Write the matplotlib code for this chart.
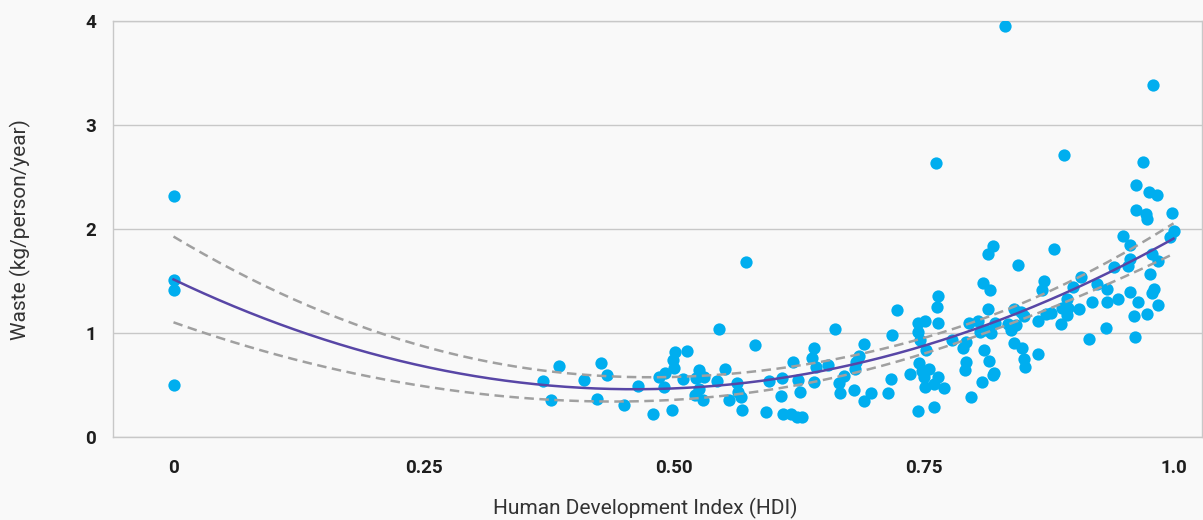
import numpy as np
import matplotlib
matplotlib.use("Agg")
from matplotlib import pyplot as plt

# HDI (x) and waste per person (y)
hdi = [0, 0, 0, 0,
       0.369, 0.377, 0.385, 0.410, 0.423, 0.427, 0.433, 0.450, 0.464, 0.479,
       0.485, 0.490, 0.491, 0.498, 0.500, 0.499, 0.501, 0.513, 0.509, 0.522,
       0.525, 0.530, 0.525, 0.521, 0.529, 0.545, 0.543, 0.551, 0.555, 0.563,
       0.564, 0.567, 0.568, 0.572, 0.581, 0.592, 0.595, 0.607, 0.608, 0.609,
       0.617, 0.623, 0.628, 0.619, 0.624, 0.626, 0.640, 0.638, 0.642, 0.640,
       0.654, 0.661, 0.665, 0.666, 0.670, 0.680, 0.690, 0.685, 0.682, 0.681,
       0.690, 0.697, 0.714, 0.717, 0.718, 0.723, 0.736, 0.744, 0.745, 0.744,
       0.744, 0.751, 0.746, 0.752, 0.748, 0.755, 0.750, 0.751, 0.760, 0.764,
       0.770, 0.760, 0.762, 0.764, 0.763, 0.764, 0.778, 0.789, 0.792, 0.792,
       0.791, 0.797, 0.795, 0.804, 0.806, 0.808, 0.810, 0.809, 0.816, 0.814,
       0.819, 0.814, 0.815, 0.820, 0.819, 0.821, 0.817, 0.812, 0.834, 0.842,
       0.837, 0.840, 0.847, 0.850, 0.840, 0.848, 0.850, 0.851, 0.844, 0.864,
       0.864, 0.870, 0.868, 0.872, 0.877, 0.880, 0.887, 0.888, 0.894, 0.893,
       0.893, 0.890, 0.899, 0.905, 0.907, 0.915, 0.918, 0.923, 0.933, 0.933,
       0.932, 0.944, 0.940, 0.949, 0.956, 0.956, 0.954, 0.956, 0.960, 0.961,
       0.964, 0.962, 0.962, 0.969, 0.975, 0.983, 0.972, 0.973, 0.978, 0.984,
       0.976, 0.980, 0.978, 0.984, 0.973, 0.998, 1.000, 0.996, 0.979, 0.831]
waste = [2.32, 1.51, 1.41, 0.50,
         0.54, 0.36, 0.68, 0.55, 0.37, 0.71, 0.60, 0.31, 0.49, 0.22,
         0.58, 0.48, 0.62, 0.26, 0.66, 0.74, 0.82, 0.83, 0.56, 0.57,
         0.64, 0.58, 0.46, 0.40, 0.36, 1.04, 0.54, 0.65, 0.36, 0.52,
         0.43, 0.38, 0.26, 1.68, 0.88, 0.24, 0.54, 0.39, 0.57, 0.22,
         0.22, 0.19, 0.19, 0.72, 0.55, 0.43, 0.86, 0.76, 0.67, 0.53,
         0.69, 1.04, 0.52, 0.42, 0.59, 0.45, 0.89, 0.78, 0.72, 0.65,
         0.35, 0.42, 0.42, 0.56, 0.98, 1.22, 0.61, 0.25, 0.71, 1.01,
         1.10, 1.12, 0.93, 0.84, 0.63, 0.65, 0.58, 0.48, 0.51, 0.58,
         0.47, 0.29, 2.63, 1.36, 1.25, 1.10, 0.93, 0.86, 0.91, 0.72,
         0.64, 0.38, 1.10, 1.12, 1.01, 0.53, 0.84, 1.48, 1.41, 1.76,
         1.84, 1.23, 0.73, 0.62, 0.60, 1.10, 1.00, 1.03, 1.09, 1.08,
         1.03, 1.23, 1.20, 1.16, 0.90, 0.86, 0.75, 0.67, 1.65, 0.80,
         1.12, 1.50, 1.41, 1.18, 1.19, 1.81, 1.09, 1.24, 1.24, 1.17,
         1.33, 2.71, 1.44, 1.23, 1.54, 0.94, 1.30, 1.47, 1.42, 1.30,
         1.05, 1.33, 1.63, 1.93, 1.85, 1.71, 1.64, 1.39, 1.16, 0.96,
         1.30, 2.42, 2.18, 2.64, 2.36, 2.33, 2.14, 2.10, 1.76, 1.69,
         1.57, 1.42, 1.38, 1.27, 1.18, 2.15, 1.98, 1.92, 3.38, 3.95]

x_ticks = [0, 0.25, 0.5, 0.75, 1.0]
x_tick_labels = ["0", "0.25", "0.50", "0.75", "1.0"]
y_ticks = [0, 1, 2, 3, 4]

x = np.array(hdi)
y = np.array(waste)

# quadratic least squares fit with 95% confidence band of the mean
X = np.column_stack([np.ones_like(x), x, x ** 2])
beta, res, rank, sv = np.linalg.lstsq(X, y, rcond=None)
resid = y - X @ beta
dof = len(y) - 3
s2 = resid @ resid / dof
cov = s2 * np.linalg.inv(X.T @ X)
xf = np.linspace(0, x.max(), 200)
Xf = np.column_stack([np.ones_like(xf), xf, xf ** 2])
yf = Xf @ beta
se = np.sqrt(np.einsum("ij,jk,ik->i", Xf, cov, Xf))
t = 1.974

plt.rcParams["font.family"] = ["Roboto", "DejaVu Sans"]

fig = plt.figure(figsize=(12.03, 5.20), dpi=100)
fig.patch.set_facecolor("#f9f9f9")
ax = fig.add_axes([113 / 1203, 83 / 520, 1089 / 1203, 416 / 520])
ax.set_facecolor("#f9f9f9")

ax.scatter(x, y, s=78, color="#00aeef", linewidths=0, zorder=3)
ax.plot(xf, yf, color="#5846a6", lw=1.8, zorder=4)
ax.plot(xf, yf + t * se, color="#a0a0a0", lw=1.8, dashes=(3.8, 2.2), zorder=4)
ax.plot(xf, yf - t * se, color="#a0a0a0", lw=1.8, dashes=(3.8, 2.2), zorder=4)

ax.set_xlim(-0.0605, 1.0285)
ax.set_ylim(0, 4)
ax.set_xticks(x_ticks)
ax.set_xticklabels(x_tick_labels)
ax.set_yticks(y_ticks)
ax.grid(axis="y", color="#c8c8c8", lw=1)
ax.set_axisbelow(True)
for sp in ax.spines.values():
    sp.set_color("#c8c8c8")
    sp.set_linewidth(1)
ax.tick_params(axis="both", length=0, labelsize=13.5, colors="#1e1e1e")
ax.tick_params(axis="x", pad=16)
ax.tick_params(axis="y", pad=12)
for lab in ax.get_xticklabels() + ax.get_yticklabels():
    lab.set_fontweight("bold")

fig.text(645 / 1203, 1 - 508 / 520, "Human Development Index (HDI)",
         ha="center", va="center", fontsize=15, color="#333333")
fig.text(20 / 1203, 1 - 230 / 520, "Waste (kg/person/year)", rotation=90,
         ha="center", va="center", fontsize=15, color="#333333")

fig.savefig("out.png", dpi=100, facecolor=fig.get_facecolor())
